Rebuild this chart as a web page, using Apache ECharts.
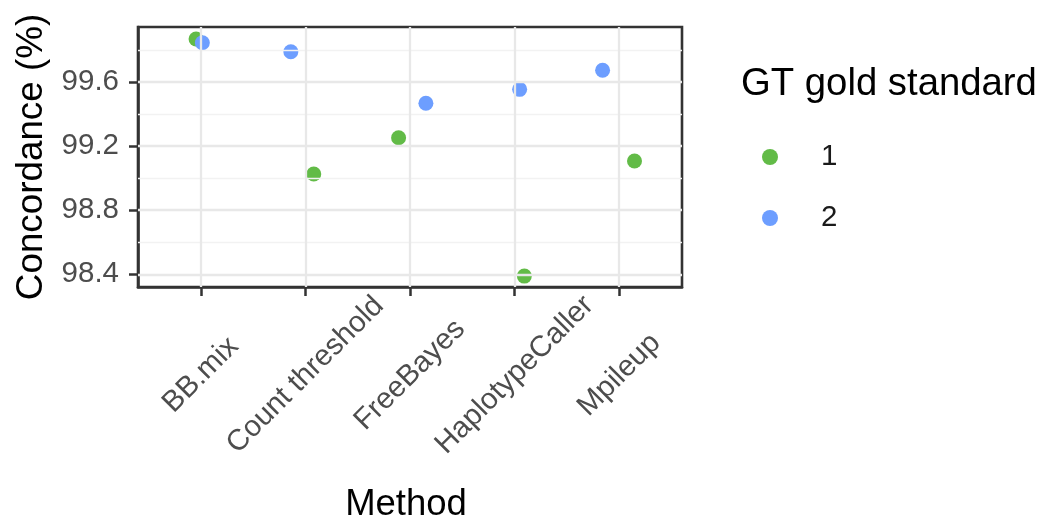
<!DOCTYPE html>
<html>
<head>
<meta charset="utf-8">
<script src="https://cdn.jsdelivr.net/npm/echarts@6/dist/echarts.min.js"></script>
<style>
html,body{margin:0;padding:0;background:#fff;}
#chart{width:1039px;height:527px;}
</style>
</head>
<body>
<div id="chart"></div>
<script>
// ---- data ----
const categories = ['BB.mix', 'Count threshold', 'FreeBayes', 'HaplotypeCaller', 'Mpileup'];
const seriesNames = ['1', '2'];
const gold1 = [99.868, 99.026, 99.252, 98.389, 99.107];
const gold2 = [99.845, 99.789, 99.467, 99.554, 99.673];
// horizontal jitter (category units)
const jitter1 = [-0.045, 0.080, -0.109, 0.093, 0.146];
const jitter2 = [0.015, -0.139, 0.152, 0.048, -0.159];
const yTicks = [98.4, 98.8, 99.2, 99.6];
const yMinor = [98.6, 99.0, 99.4, 99.8];
const yRange = [98.321, 99.943];

const FONT = 'Liberation Sans, Arial, Helvetica, sans-serif';
const colors = ['#62BB47', '#6D9EFF'];
// categories are placed at positions 1..n on the x scale
const catPos = categories.map((c, i) => i + 1);

function pts(vals, jit) {
  return vals.map((v, i) => [catPos[i] + jit[i], v]);
}

const chart = echarts.init(document.getElementById('chart'), null, {renderer: 'canvas'});
chart.setOption({
  animation: false,
  backgroundColor: '#ffffff',
  title: {
    text: 'GT gold standard',
    left: 736, top: 60,
    textStyle: {fontFamily: FONT, fontSize: 38.3, fontWeight: 'normal', color: '#000'}
  },
  legend: {
    orient: 'vertical',
    left: 757, top: 137,
    data: seriesNames,
    icon: 'circle',
    itemWidth: 16, itemHeight: 16,
    itemGap: 31,
    textStyle: {fontFamily: FONT, fontSize: 29.5, color: '#1a1a1a', lineHeight: 30, padding: [0, 0, 0, 38]}
  },
  grid: {
    left: 138, right: 357, top: 27, bottom: 240,
    show: true, borderColor: '#333333', borderWidth: 2.6, backgroundColor: 'transparent',
    containLabel: false
  },
  xAxis: {
    type: 'value',
    min: 0.4, max: categories.length + 0.6,
    name: 'Method',
    nameLocation: 'middle',
    nameGap: 199,
    nameTextStyle: {fontFamily: FONT, fontSize: 36.5, color: '#000', padding: [0, 8, 0, 0]},
    axisLine: {show: true, onZero: false, lineStyle: {color: '#333333', width: 2.6}},
    axisTick: {show: true, inside: false, customValues: catPos, length: 9, lineStyle: {color: '#333333', width: 2.5}},
    axisLabel: {
      customValues: catPos,
      formatter: v => categories[Math.round(v) - 1],
      rotate: 45, align: 'center', verticalAlign: 'middle', margin: 88,
      fontFamily: FONT, fontSize: 29.5, color: '#4D4D4D'
    },
    splitLine: {show: false}
  },
  yAxis: {
    type: 'value',
    min: yRange[0], max: yRange[1],
    name: 'Concordance (%)',
    nameLocation: 'middle',
    nameGap: 87,
    nameTextStyle: {fontFamily: FONT, fontSize: 36.8, color: '#000'},
    axisLine: {show: true, onZero: false, lineStyle: {color: '#333333', width: 2.6}},
    axisTick: {show: true, inside: false, customValues: yTicks, length: 9, lineStyle: {color: '#333333', width: 2.5}},
    axisLabel: {
      customValues: yTicks,
      formatter: v => v.toFixed(1),
      margin: 19,
      fontFamily: FONT, fontSize: 29.5, color: '#4D4D4D'
    },
    splitLine: {show: false}
  },
  series: [
    {
      // gridlines
      type: 'scatter', data: [], silent: true, z: 1,
      markLine: {
        silent: true, symbol: 'none', label: {show: false}, animation: false,
        data: [
          ...yMinor.map(v => ({yAxis: v, lineStyle: {color: '#F2F2F2', width: 1.3, type: 'solid'}})),
          ...yTicks.map(v => ({yAxis: v, lineStyle: {color: '#E8E8E8', width: 2.3, type: 'solid'}})),
          ...catPos.map(v => ({xAxis: v, lineStyle: {color: '#E8E8E8', width: 2.3, type: 'solid'}}))
        ]
      }
    },
    {
      name: seriesNames[0], type: 'scatter', z: 3,
      data: pts(gold1, jitter1),
      symbolSize: 15,
      itemStyle: {color: colors[0], opacity: 1}
    },
    {
      name: seriesNames[1], type: 'scatter', z: 4,
      data: pts(gold2, jitter2),
      symbolSize: 15,
      itemStyle: {color: colors[1], opacity: 1}
    }
  ]
});
</script>
</body>
</html>
